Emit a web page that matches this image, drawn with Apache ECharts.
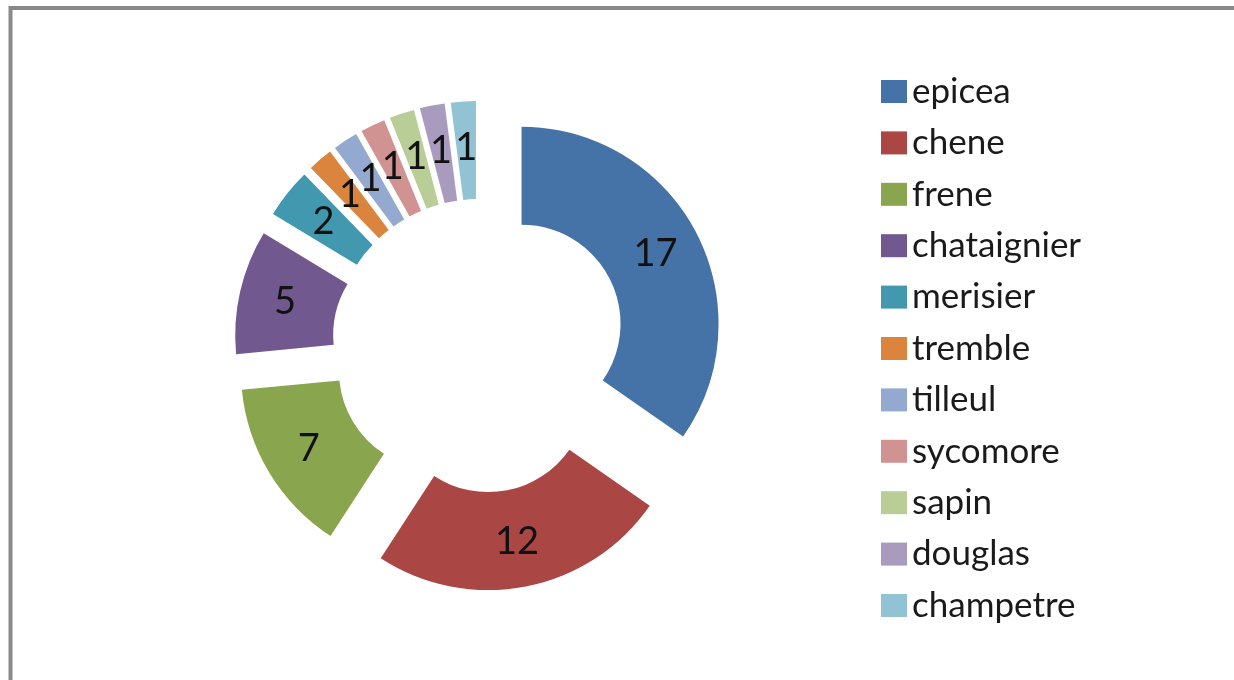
<!DOCTYPE html>
<html>
<head>
<meta charset="utf-8">
<script src="https://cdn.jsdelivr.net/npm/echarts@6/dist/echarts.min.js"></script>
<style>
html,body{margin:0;padding:0;background:#fff;}
#chart{width:1234px;height:680px;}
</style>
</head>
<body>
<div id="chart"></div>
<script>
var categories = ['epicea','chene','frene','chataignier','merisier','tremble','tilleul','sycomore','sapin','douglas','champetre'];
var values = [17,12,7,5,2,1,1,1,1,1,1];
var colors = ['#4572A7','#AA4643','#89A54E','#71588F','#4198AF','#DB843D','#93A9CF','#D19392','#B9CD96','#A99BBD','#92C3D4'];

var data = categories.map(function(name, i){
  return {
    name: name,
    value: values[i],
    selected: true,
    itemStyle: {color: colors[i]},
    select: {itemStyle: {color: colors[i], borderWidth: 0}}
  };
});

var chart = echarts.init(document.getElementById('chart'));
chart.setOption({
  animation: false,
  backgroundColor: '#ffffff',
  graphic: [{
    type: 'polyline',
    shape: {points: [[10.5, 690], [10.5, 8], [1300, 8]]},
    style: {stroke: '#8a8a8a', lineWidth: 4, fill: null},
    z: 10
  }],
  legend: {
    orient: 'vertical',
    left: 876,
    top: 69,
    height: 640,
    itemWidth: 26,
    itemHeight: 23,
    itemGap: 16.4,
    icon: 'rect',
    selectedMode: false,
    data: categories,
    textStyle: {
      fontFamily: 'Lato',
      fontSize: 35,
      color: '#1a1a1a'
    }
  },
  series: [{
    type: 'pie',
    center: [479, 346],
    radius: [99, 197],
    startAngle: 90,
    clockwise: true,
    selectedMode: 'multiple',
    selectedOffset: 48,
    avoidLabelOverlap: false,
    labelLayout: {hideOverlap: false},
    emphasis: {disabled: true},
    label: {
      show: true,
      position: 'inside',
      formatter: '{c}',
      fontFamily: 'Lato',
      fontSize: 38,
      color: '#111'
    },
    labelLine: {show: false},
    data: data
  }]
});
</script>
</body>
</html>
